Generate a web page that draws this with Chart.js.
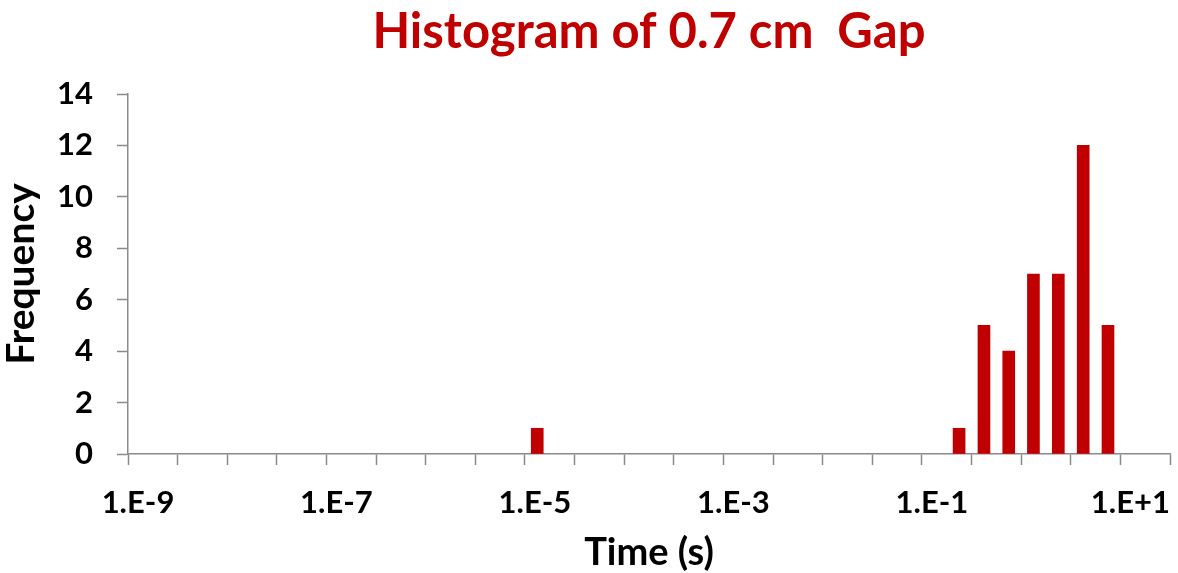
<!DOCTYPE html>
<html>
<head>
<meta charset="utf-8">
<script src="https://cdn.jsdelivr.net/npm/chart.js@4"></script>
<style>
  html, body { margin: 0; padding: 0; background: #fff; }
  #wrap { width: 1178px; height: 573px; }
</style>
</head>
<body>
<div id="wrap"><canvas id="c" width="1178" height="573"></canvas></div>
<script>
// ---- data ----
const binCenters = [1.33e-5, 0.237, 0.422, 0.750, 1.33, 2.37, 4.22, 7.50]; // time (s), log-spaced bins
const frequency  = [1, 1, 5, 4, 7, 7, 12, 5];
const xTickExps  = [-9,-8.5,-8,-7.5,-7,-6.5,-6,-5.5,-5,-4.5,-4,-3.5,-3,-2.5,-2,-1.5,-1,-0.5,0,0.5,1,1.5];
const xLabelExps = [-9, -7, -5, -3, -1, 1];
const xTickLabels = ['1.E-9', '1.E-7', '1.E-5', '1.E-3', '1.E-1', '1.E+1'];
const yTicks = [0, 2, 4, 6, 8, 10, 12, 14];

const RED = '#C00000';
const AXIS = '#8a8a8a';
const FONT = 'Lato';

new Chart(document.getElementById('c'), {
  type: 'bar',
  data: {
    datasets: [{
      data: binCenters.map((t, i) => ({ x: t, y: frequency[i] })),
      backgroundColor: RED,
      borderWidth: 0,
      barThickness: 12
    }]
  },
  options: {
    responsive: false,
    devicePixelRatio: 1,
    animation: false,
    layout: { padding: { left: 0, right: 8, top: 0, bottom: 0 } },
    plugins: {
      legend: { display: false },
      tooltip: { enabled: false },
      title: {
        display: true,
        fullSize: false,
        text: 'Histogram of 0.7 cm  Gap',
        color: RED,
        font: { family: FONT, size: 49, weight: 'bold', lineHeight: 1.2 },
        padding: { top: 2.6, bottom: 32.6 }
      }
    },
    scales: {
      x: {
        type: 'logarithmic',
        min: Math.pow(10, -9),
        max: Math.pow(10, 1.5),
        offset: false,
        grid: { display: true, drawOnChartArea: false, drawTicks: true, tickLength: 11, tickColor: AXIS, tickWidth: 1.5, offset: false },
        border: { display: true, color: AXIS, width: 1.5 },
        afterBuildTicks: (s) => { s.ticks = xTickExps.map(e => ({ value: Math.pow(10, e) })); },
        afterFit: (s) => { s.height = 119; s.paddingLeft = 0; s.paddingRight = 0; },
        ticks: {
          autoSkip: false,
          maxRotation: 0,
          minRotation: 0,
          color: '#000',
          padding: 19,
          labelOffset: 10,
          font: { family: FONT, size: 31, weight: 'bold' },
          callback: (v) => {
            const e = Math.round(Math.log10(v) * 2) / 2;
            const i = xLabelExps.indexOf(e);
            return i >= 0 ? xTickLabels[i] : '';
          }
        },
        title: {
          display: true,
          text: 'Time (s)',
          color: '#000',
          font: { family: FONT, size: 38, weight: 'bold', lineHeight: 1 },
          padding: { top: 0, bottom: 1 }
        }
      },
      y: {
        min: 0,
        max: 14,
        grid: { display: true, drawOnChartArea: false, drawTicks: true, tickLength: 11, tickColor: AXIS, tickWidth: 1.5 },
        border: { display: true, color: AXIS, width: 1.5 },
        afterBuildTicks: (s) => { s.ticks = yTicks.map(v => ({ value: v })); },
        afterFit: (s) => { s.width = 128; },
        ticks: {
          color: '#000',
          padding: 24,
          font: { family: FONT, size: 31, weight: 'bold' }
        },
        title: {
          display: true,
          text: 'Frequency',
          color: '#000',
          font: { family: FONT, size: 39, weight: 'bold', lineHeight: 1 },
          padding: { top: 1.5, bottom: 0 }
        }
      }
    }
  }
});
</script>
</body>
</html>
